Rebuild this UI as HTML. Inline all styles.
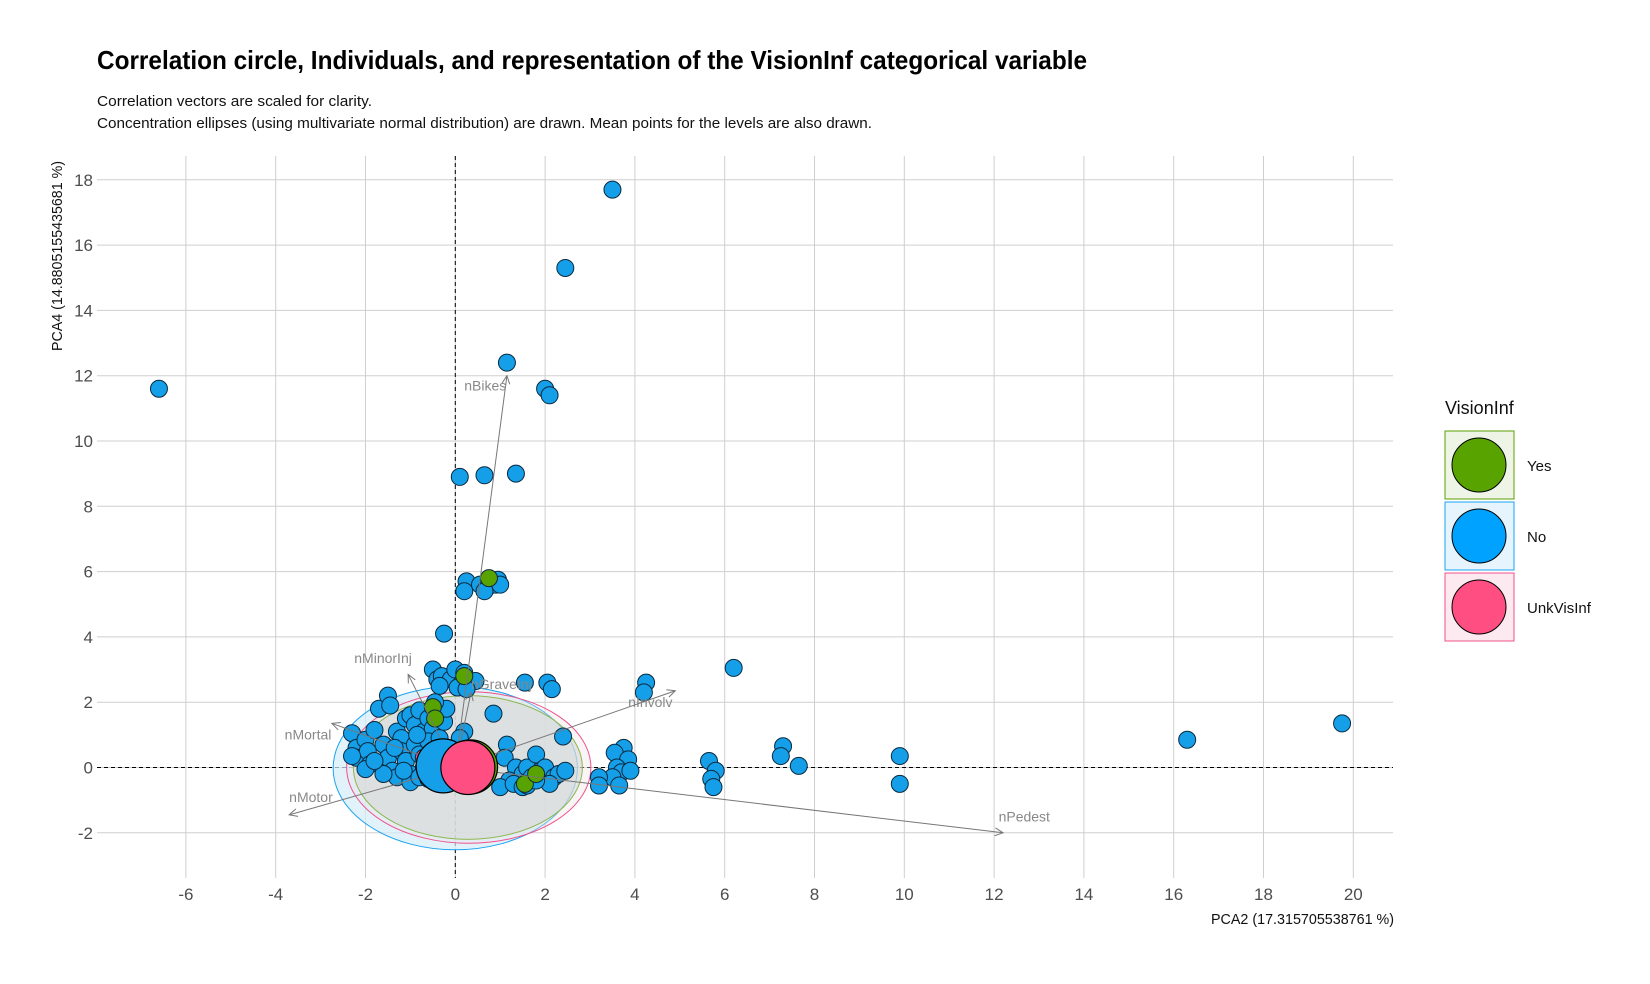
<!DOCTYPE html>
<html><head><meta charset="utf-8"><style>
html,body{margin:0;padding:0;background:#fff;}
svg text{font-family:"Liberation Sans",sans-serif;}
</style></head><body>
<svg id="chart" width="1650" height="979" viewBox="0 0 1650 979" xmlns="http://www.w3.org/2000/svg">
<text x="97" y="69" font-size="26" font-weight="bold" fill="#000" textLength="990" lengthAdjust="spacingAndGlyphs">Correlation circle, Individuals, and representation of the VisionInf categorical variable</text>
<text x="97" y="106" font-size="15" fill="#111" textLength="275" lengthAdjust="spacingAndGlyphs">Correlation vectors are scaled for clarity.</text>
<text x="97" y="128" font-size="15" fill="#111" textLength="775" lengthAdjust="spacingAndGlyphs">Concentration ellipses (using multivariate normal distribution) are drawn. Mean points for the levels are also drawn.</text>
<g id="grid"></g>
<g id="ellipses"></g>
<g id="points"></g>
<g id="vectors"></g>
<g id="means"></g>
<text x="1394" y="924" font-size="15" text-anchor="end" fill="#111" textLength="183" lengthAdjust="spacingAndGlyphs">PCA2 (17.315705538761 %)</text>
<text transform="translate(62,256) rotate(-90)" font-size="15" text-anchor="middle" fill="#111" textLength="190" lengthAdjust="spacingAndGlyphs">PCA4 (14.8805155435681 %)</text>
<g>
<text x="1445" y="414" font-size="18" fill="#111">VisionInf</text>
<g>
<rect x="1445" y="431" width="69" height="68" fill="#eef5e6" stroke="#5aa000" stroke-width="1"/>
<circle cx="1479" cy="465" r="27" fill="#58a300" stroke="#000" stroke-width="1"/>
<text x="1527" y="471" font-size="15" fill="#111">Yes</text></g>
<g>
<rect x="1445" y="502" width="69" height="68" fill="#e6f4fd" stroke="#1aa3f0" stroke-width="1"/>
<circle cx="1479" cy="536" r="27" fill="#00a2ff" stroke="#000" stroke-width="1"/>
<text x="1527" y="542" font-size="15" fill="#111">No</text></g>
<g>
<rect x="1445" y="573" width="69" height="68" fill="#fdeaf0" stroke="#f0508a" stroke-width="1"/>
<circle cx="1479" cy="607" r="27" fill="#ff4f82" stroke="#000" stroke-width="1"/>
<text x="1527" y="613" font-size="15" fill="#111">UnkVisInf</text></g>
</g>
</svg>
<script>
const xTicks=[-6,-4,-2,0,2,4,6,8,10,12,14,16,18,20];
const yTicks=[-2,0,2,4,6,8,10,12,14,16,18];
const noX=[3.5,2.45,-6.6,1.15,2.0,2.1,0.1,0.65,1.35,-0.25,6.2,4.25,4.2,2.05,2.15,1.55,0.85,2.4,16.3,19.75,7.3,7.25,7.65,9.9,9.9,5.65,5.8,5.7,5.75,3.75,3.55,3.85,3.6,3.7,3.5,3.2,3.2,3.65,3.9,
0.25,0.2,0.55,0.7,0.8,0.9,0.95,1.0,0.65,
-0.5,-0.4,-0.3,-0.1,0,0.15,0.2,0.45,-0.35,0.05,0.25,
1.15,1.1,1.35,1.5,1.6,1.8,1.9,2.0,2.2,2.3,1.2,1.0,1.3,1.5,1.7,2.1,2.45,1.6,1.8,
-2.3,-2.2,-2.2,-2.0,-1.95,-1.9,-2.0,-1.8,-1.7,-1.5,-1.45,-1.6,-1.5,-1.4,-1.3,-1.2,-1.1,-1.0,-0.9,-0.8,-0.7,-0.6,-0.5,-1.2,-1.1,-1.0,-0.9,-0.8,-0.7,-0.6,-0.5,-0.4,-0.3,-1.3,-1.0,-0.8,-0.6,-0.4,-1.6,-1.35,-0.85,-0.55,-0.35,-0.25,-0.2,-0.45,0.2,0.1,0.0,-1.8,-2.3,-1.15];
const noY=[17.7,15.3,11.6,12.4,11.6,11.4,8.9,8.95,9.0,4.1,3.05,2.6,2.3,2.6,2.4,2.6,1.65,0.95,0.85,1.35,0.65,0.35,0.05,0.35,-0.5,0.2,-0.1,-0.35,-0.6,0.6,0.45,0.25,0,-0.15,-0.3,-0.3,-0.55,-0.55,-0.1,
5.7,5.4,5.6,5.5,5.7,5.6,5.75,5.6,5.4,
3.0,2.7,2.8,2.7,3.0,2.6,2.9,2.65,2.5,2.45,2.4,
0.7,0.3,0,-0.2,0,0.4,-0.1,0.0,-0.3,-0.2,-0.4,-0.6,-0.5,-0.6,-0.3,-0.5,-0.1,-0.55,-0.4,
1.05,0.6,0.3,0.85,0.5,0.1,-0.05,1.15,1.8,2.2,1.9,0.7,0.3,-0.1,1.1,0.9,1.5,1.6,1.3,1.75,1.1,1.5,1.2,0.5,0.2,-0.2,0.7,0.4,0.0,0.8,0.5,0.2,-0.1,-0.3,-0.45,-0.3,-0.35,-0.4,-0.2,0.6,1.0,0.05,0.9,1.4,1.8,2.0,1.1,0.9,0.5,0.2,0.35,-0.1];
const yesX=[0.2,0.75,-0.5,-0.45,1.55,1.8];
const yesY=[2.8,5.8,1.85,1.5,-0.5,-0.2];
const unkX=[-0.7];
const unkY=[0.3];
const meanLevels=["No","Yes","UnkVisInf"];
const meanX=[-0.27,0.34,0.28];
const meanY=[0.05,0.02,0.0];
const ellCX=[0.0,0.28,0.3];
const ellCY=[-0.02,0.0,0.0];
const ellRX=[2.72,2.55,2.72];
const ellRY=[2.5,2.2,2.32];
const vecNames=["nBikes","nPedest","nInvolv","nGraveInj","nMinorInj","nMortal","nMotor"];
const vecX=[1.15,12.2,4.9,0.35,-1.05,-2.75,-3.7];
const vecY=[12.0,-2.0,2.35,2.3,2.85,1.35,-1.45];
const labX=[0.2,12.1,3.85,0.35,-2.25,-3.8,-3.7];
const labY=[11.55,-1.65,1.85,2.4,3.2,0.85,-1.05];

const X0=455.3,XS=44.9,Y0=767.5,YS=32.65;
const L=97,R=1393,T=156,B=878;
function sx(v){return X0+v*XS;}
function sy(v){return Y0-v*YS;}
const NS="http://www.w3.org/2000/svg";
function mk(tag,attrs,parent){const e=document.createElementNS(NS,tag);for(const k in attrs)e.setAttribute(k,attrs[k]);parent.appendChild(e);return e;}
const grid=document.getElementById('grid');
xTicks.forEach(t=>{
  const l=mk('line',{x1:sx(t),x2:sx(t),y1:T,y2:B,stroke:'#cfcfcf','stroke-width':1},grid);
  
  
  const tx=mk('text',{x:sx(t),y:B+22,'font-size':17,fill:'#4d4d4d','text-anchor':'middle'},grid);
  tx.textContent=t;
  
  
});
yTicks.forEach(t=>{
  const l=mk('line',{x1:L,x2:R,y1:sy(t),y2:sy(t),stroke:'#cfcfcf','stroke-width':1},grid);
  
  
  const tx=mk('text',{x:L-4,y:sy(t)+6,'font-size':17,fill:'#4d4d4d','text-anchor':'end'},grid);
  tx.textContent=t;
  
  
});
const zx=mk('line',{x1:sx(0),x2:sx(0),y1:T,y2:B,stroke:'#000','stroke-width':1,'stroke-dasharray':'4,3'},grid);


const zy=mk('line',{x1:L,x2:R,y1:sy(0),y2:sy(0),stroke:'#000','stroke-width':1,'stroke-dasharray':'4,3'},grid);



const ellCol=["#1aa3f0","#5aa000","#f0508a"];
const ellFill=["#d6ecf8","#c9cfc6","#efe3e6"];
const ellOp=[0.7,0.55,0.35];
const eg=document.getElementById('ellipses');
ellCX.forEach((c,i)=>{
  const e=mk('ellipse',{cx:sx(c),cy:sy(ellCY[i]),rx:ellRX[i]*XS,ry:ellRY[i]*YS,fill:ellFill[i],'fill-opacity':ellOp[i],stroke:ellCol[i],'stroke-width':1},eg);
  
  
});

const pg=document.getElementById('points');
function drawPts(xs,ys,fill,name){
  xs.forEach((v,i)=>{
    const c=mk('circle',{cx:sx(v),cy:sy(ys[i]),r:8.5,fill:fill,stroke:'#0a2a40','stroke-width':1},pg);
    
    
  });
}
drawPts(noX,noY,'#149fe8','point-no');
drawPts(yesX,yesY,'#58a300','point-yes');
drawPts(unkX,unkY,'#ff4f82','point-unkvisinf');

const vg=document.getElementById('vectors');
vecNames.forEach((n,i)=>{
  const x1=sx(0),y1=sy(0),x2=sx(vecX[i]),y2=sy(vecY[i]);
  const ln=mk('line',{x1:x1,y1:y1,x2:x2,y2:y2,stroke:'#777','stroke-width':1},vg);
  
  
  const a=Math.atan2(y2-y1,x2-x1),h=9;
  const p=`M${x2-h*Math.cos(a-0.45)},${y2-h*Math.sin(a-0.45)} L${x2},${y2} L${x2-h*Math.cos(a+0.45)},${y2-h*Math.sin(a+0.45)}`;
  const ah=mk('path',{d:p,fill:'none',stroke:'#777','stroke-width':1},vg);
  
  
  const t=mk('text',{x:sx(labX[i]),y:sy(labY[i]),'font-size':14,fill:'#888'},vg);
  t.textContent=n;
  
  
});

const mg=document.getElementById('means');
const meanCol=['#149fe8','#58a300','#ff4f82'];
meanX.forEach((v,i)=>{
  const c=mk('circle',{cx:sx(v),cy:sy(meanY[i]),r:27,fill:meanCol[i],stroke:'#000','stroke-width':1.2},mg);
  
  
});
</script>
</body></html>
